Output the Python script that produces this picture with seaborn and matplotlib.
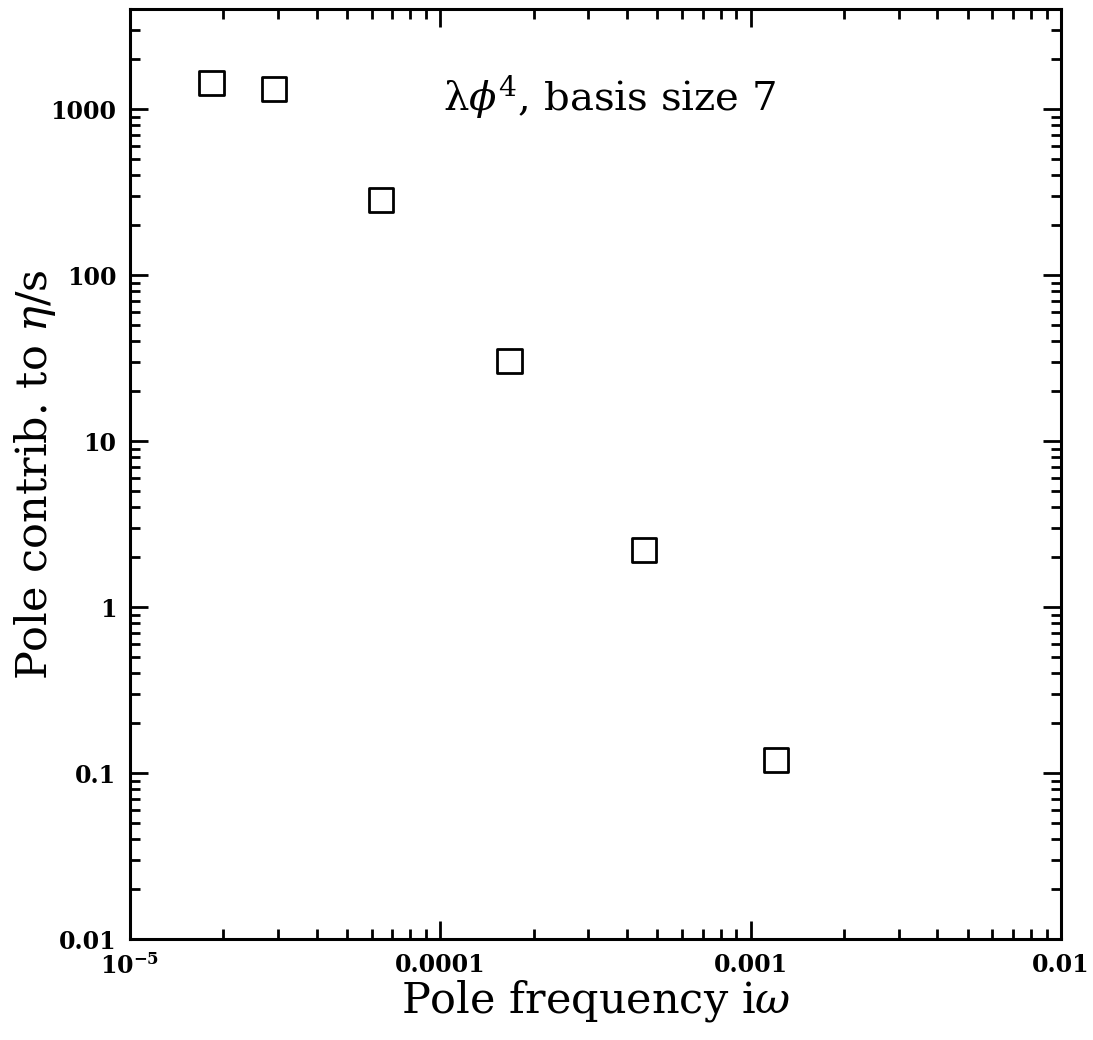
import numpy as np
import pandas as pd
import matplotlib
matplotlib.use('Agg')
import matplotlib.pyplot as plt
import matplotlib.ticker as mticker
import seaborn as sns

# data
freq = [1.83e-5, 2.91e-5, 6.45e-5, 1.67e-4, 4.52e-4, 1.21e-3]
contrib = [1450, 1320, 285, 30.3, 2.2, 0.12]

x_ticks = [1e-5, 1e-4, 1e-3, 1e-2]
x_labels = [r'$\mathbf{10^{-5}}$', '0.0001', '0.001', '0.01']
y_ticks = [0.01, 0.1, 1, 10, 100, 1000]
y_labels = ['0.01', '0.1', '1', '10', '100', '1000']

df = pd.DataFrame({'freq': freq, 'contrib': contrib})

sns.set_style('ticks')
plt.rcParams['font.family'] = ['DejaVu Serif']
plt.rcParams['mathtext.fontset'] = 'dejavuserif'
for k in ['text.color', 'axes.labelcolor', 'xtick.color', 'ytick.color', 'axes.edgecolor']:
    plt.rcParams[k] = 'black'

fig = plt.figure(figsize=(10.93, 10.40), dpi=100)
ax = fig.add_axes([0.119, 0.0971, 0.8517, 0.8938])

sns.scatterplot(data=df, x='freq', y='contrib', marker='s', s=300,
                facecolor='none', edgecolor='black', linewidth=2.0, ax=ax)

ax.set_xscale('log')
ax.set_yscale('log')
ax.set_xlim(1e-5, 1e-2)
ax.set_ylim(0.01, 4000)

ax.xaxis.set_major_locator(mticker.FixedLocator(x_ticks))
ax.xaxis.set_major_formatter(mticker.FixedFormatter(x_labels))
ax.yaxis.set_major_locator(mticker.FixedLocator(y_ticks))
ax.yaxis.set_major_formatter(mticker.FixedFormatter(y_labels))
ax.xaxis.set_minor_locator(mticker.LogLocator(base=10, subs=np.arange(2, 10)))
ax.yaxis.set_minor_locator(mticker.LogLocator(base=10, subs=np.arange(2, 10)))
ax.xaxis.set_minor_formatter(mticker.NullFormatter())
ax.yaxis.set_minor_formatter(mticker.NullFormatter())

ax.tick_params(which='both', direction='in', top=True, right=True, width=2)
ax.tick_params(which='major', length=13, labelsize=17, pad=10)
ax.tick_params(which='minor', length=7)
for lab in ax.get_xticklabels() + ax.get_yticklabels():
    lab.set_fontweight('bold')
for sp in ax.spines.values():
    sp.set_linewidth(2.2)
    sp.set_visible(True)

ax.set_xlabel(r'Pole frequency i$\omega$', fontsize=31)
ax.xaxis.set_label_coords(0.5, -0.042)
ax.xaxis.label.set_va('top')
ax.set_ylabel(r'Pole contrib. to $\eta$/s', fontsize=31)
ax.yaxis.set_label_coords(-0.077, 0.5)
ax.text(0.336, 0.906, r'λ$\phi^4$, basis size 7', transform=ax.transAxes,
        fontsize=29, ha='left', va='center')

fig.savefig('out.png', dpi=100)
